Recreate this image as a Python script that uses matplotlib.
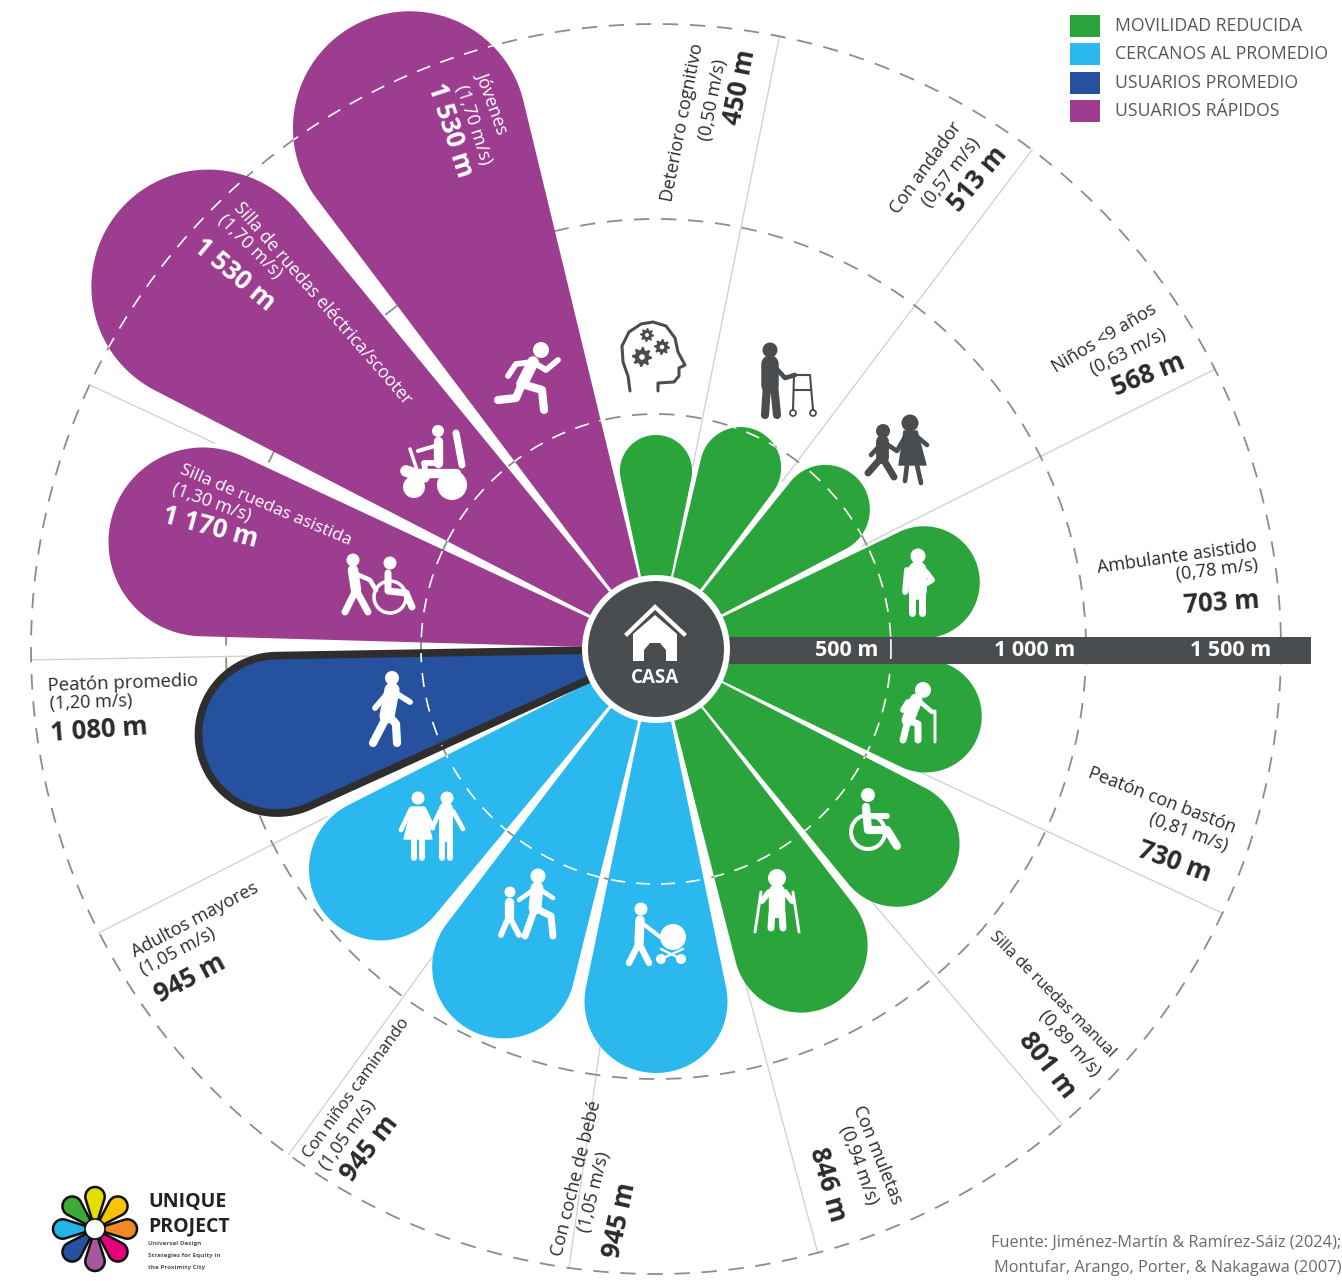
import numpy as np
import matplotlib
matplotlib.use('Agg')
import matplotlib.pyplot as plt
from matplotlib.patches import Circle, Polygon, Rectangle

plt.rcParams['font.family'] = ['Open Sans', 'DejaVu Sans']

# Data, clockwise from the top
names = ['Deterioro cognitivo', 'Con andador', 'Niños <9 años', 'Ambulante asistido',
         'Peatón con bastón', 'Silla de ruedas manual', 'Con muletas', 'Con coche de bebé',
         'Con niños caminando', 'Adultos mayores', 'Peatón promedio',
         'Silla de ruedas asistida', 'Silla de ruedas eléctrica/scooter', 'Jóvenes']
speeds = [0.50, 0.57, 0.63, 0.78, 0.81, 0.89, 0.94, 1.05, 1.05, 1.05, 1.20, 1.30, 1.70, 1.70]
distances = [450, 513, 568, 703, 730, 801, 846, 945, 945, 945, 1080, 1170, 1530, 1530]
groups = ['mov', 'mov', 'mov', 'mov', 'mov', 'mov', 'mov', 'cer', 'cer', 'cer', 'pro', 'rap', 'rap', 'rap']
angles = [0, 25, 50.5, 76, 104, 129, 154, 180, 205.6, 231.4, 257.3, 283.3, 309, 334.7]
# divider angle and the two sectors it separates
dividers = [11.4, 37, 63.4, 115, 139.5, 165, 188, 216, 243, 269, 295]
divider_next = [1, 2, 3, 5, 6, 7, 8, 9, 10, 11, 12]

ring_labels = ['500 m', '1 000 m', '1 500 m']
ring_metres = [500, 1000, 1500]

legend_labels = ['MOVILIDAD REDUCIDA', 'CERCANOS AL PROMEDIO', 'USUARIOS PROMEDIO', 'USUARIOS RÁPIDOS']
legend_groups = ['mov', 'cer', 'pro', 'rap']
colors = {'mov': '#2BA53B', 'cer': '#2BB8EE', 'pro': '#26519F', 'rap': '#9C3D8F'}

DARK = '#4A4D4F'
CX, CY = 656, 649
SLOPE = np.sin(np.radians(11.7))


def ring_px(m):
    return 40 + 0.39 * m


def reach_px(m):
    # the petals are not drawn quite linear, this scale is read off the picture
    return np.interp(m, [450, 568, 703, 730, 846, 945, 1080, 1170, 1530],
                     [214, 264, 332, 334, 397, 424, 467, 560, 693])


def petal_xy(a, L, ox=CX, oy=CY, s=SLOPE):
    a = np.radians(a)
    u = np.array([np.sin(a), -np.cos(a)])
    v = np.array([np.cos(a), np.sin(a)])
    rc = L * s / (1 + s)
    alpha = np.arcsin(s)
    phi = np.linspace(-(np.pi / 2 + alpha), np.pi / 2 + alpha, 70)
    pts = [np.array([ox, oy]) + (L - rc + rc * np.cos(p)) * u + rc * np.sin(p) * v for p in phi]
    return np.array([[ox, oy]] + pts)


def icon(x0, y0, col, heads=(), lines=(), polys=(), rings=()):
    for pts, w in lines:
        pts = np.array(pts, dtype=float)
        ax.plot(x0 + pts[:, 0], y0 + pts[:, 1], color=col, lw=w * 0.84,
                solid_capstyle='round', solid_joinstyle='round', zorder=8)
    for pts in polys:
        pts = np.array(pts, dtype=float)
        ax.add_patch(Polygon(pts + [x0, y0], closed=True, fc=col, ec=col, lw=1, joinstyle='round', zorder=8))
    for dx, dy, r in heads:
        ax.add_patch(Circle((x0 + dx, y0 + dy), r, fc=col, ec='none', zorder=8))
    for dx, dy, r, w in rings:
        ax.add_patch(Circle((x0 + dx, y0 + dy), r, fc='none', ec=col, lw=w * 0.72, zorder=8))


def gear(x, y, r):
    t = np.radians(np.arange(0, 360, 11.25))
    rad = np.where(np.arange(len(t)) % 4 < 2, r, r * 0.72)
    ax.add_patch(Polygon(np.c_[x + rad * np.cos(t), y + rad * np.sin(t)], closed=True, fc=DARK, ec='none', zorder=8))
    ax.add_patch(Circle((x, y), r * 0.28, fc='white', ec='none', zorder=9))


fig = plt.figure(figsize=(13.42, 12.81), dpi=100)
ax = fig.add_axes([0, 0, 1, 1])
ax.set_xlim(0, 1342)
ax.set_ylim(1281, 0)
ax.axis('off')

# dividers between the sectors, only from the shorter petal's tip outwards
for a, nxt in zip(dividers, divider_next):
    r = np.radians(a)
    r0 = 0.87 * reach_px(min(distances[nxt - 1], distances[nxt]))
    ax.plot([CX + r0 * np.sin(r), CX + 625 * np.sin(r)], [CY - r0 * np.cos(r), CY - 625 * np.cos(r)],
            color='#cfcfcf', lw=0.9, zorder=1)

# grey rings
theta = np.linspace(0, 2 * np.pi, 721)
for m in ring_metres:
    ax.plot(CX + ring_px(m) * np.cos(theta), CY + ring_px(m) * np.sin(theta), color='#8c8c8c',
            lw=1.3, dashes=(8.5, 6.5), zorder=1.5)

# petals, white dashes only for the 500 and 1500 rings
for a, d, g in zip(angles, distances, groups):
    if g == 'pro':
        p = Polygon(petal_xy(a, reach_px(d)), closed=True, fc=colors[g], ec='#2E2E2E', lw=5.5,
                    joinstyle='round', zorder=3)
    else:
        p = Polygon(petal_xy(a, reach_px(d)), closed=True, fc=colors[g], ec='none', zorder=3)
    ax.add_patch(p)
    for m in [500, 1500]:
        ln, = ax.plot(CX + ring_px(m) * np.cos(theta), CY + ring_px(m) * np.sin(theta), color='white',
                      lw=1.2, dashes=(8.5, 6.5), zorder=4)
        ln.set_clip_path(p)

# distance bar and hub
bar = Rectangle((CX, 637), 1311 - CX, 27, fc=DARK, ec='none', zorder=5)
ax.add_patch(bar)
ln, = ax.plot(CX + ring_px(500) * np.cos(theta), CY + ring_px(500) * np.sin(theta), color='white',
              lw=1.2, dashes=(6, 5), zorder=5.5)
ln.set_clip_path(bar)
for lab, x in zip(ring_labels, [878, 1075, 1271]):
    ax.text(x, 650, lab, color='white', fontsize=15.5, fontweight='bold', ha='right', va='center', zorder=6)

ax.add_patch(Circle((CX, CY), 74, fc='white', ec='none', zorder=6))
ax.add_patch(Circle((CX, CY), 68, fc=DARK, ec='none', zorder=7))
ax.add_patch(Polygon([(633, 634), (655, 615), (677, 634), (677, 661), (666, 661), (666, 650), (660, 643),
                      (650, 643), (644, 650), (644, 661), (633, 661)], closed=True, fc='white', ec='none', zorder=8))
ax.plot([627, 655, 684], [634, 607, 634], color='white', lw=3, zorder=8, solid_joinstyle='miter')
ax.text(655, 678, 'CASA', color='white', fontsize=13.5, fontweight='bold', ha='center', va='center', zorder=8)

# labels: centre x, centre y, rotation for name, speed, distance line
label_pos = [
    [(683, 122, 79), (713, 100, 79), (740, 87, 79)],
    [(926, 168, 54), (951, 172, 52), (978, 179, 50)],
    [(1104, 338, 31), (1128, 352, 27), (1148, 375, 22)],
    [(1177, 557, 8), (1217, 570, 7), (1222, 603, 4)],
    [(1162, 800, -21), (1188, 833, -20), (1174, 862, -20)],
    [(1052, 995, -45), (1070, 1043, -48), (1047, 1065, -52)],
    [(877, 1155, -68), (859, 1165, -70), (828, 1185, -74)],
    [(576, 1178, 76), (594, 1192, 76), (620, 1220, 78)],
    [(356, 1088, 54), (348, 1135, 54), (370, 1148, 52)],
    [(195, 920, 28), (178, 952, 28), (190, 978, 28)],
    [(123, 683, 2), (91, 703, 2), (99, 730, 4)],
    [(266, 505, -23), (212, 503, -20), (210, 527, -15)],
    [(323, 303, -49), (250, 247, -45), (234, 275, -40)],
    [(492, 102, -70), (473, 125, -72), (450, 130, -72)],
]
name_sizes = [13, 13, 13, 13, 13, 11.6, 13, 13, 12.1, 13, 13.3, 12.5, 12.7, 13]
for i in range(len(names)):
    col = 'white' if groups[i] == 'rap' else '#2b2b2b'
    speed = '(' + f'{speeds[i]:.2f}'.replace('.', ',') + ' m/s)'
    dist = f'{distances[i]:,}'.replace(',', ' ') + ' m'
    for txt, (x, y, rot), fs, w in zip([names[i], speed, dist], label_pos[i], [name_sizes[i], 13, 18.5],
                                       ['normal', 'normal', 'bold']):
        ax.text(x, y, txt, color=col, fontsize=fs, fontweight=w, rotation=rot, rotation_mode='anchor',
                ha='center', va='center', zorder=9)

# icons
W = 'white'
icon(530, 378, W, heads=[(11, -28, 8)],
     lines=[([(3, -16), (-8, 6)], 10), ([(3, -16), (16, -8), (28, -18)], 5), ([(3, -16), (-14, -14), (-22, -2)], 5),
            ([(-8, 6), (12, 12), (14, 32)], 7), ([(-8, 6), (-14, 20), (-32, 22)], 7)])
icon(432, 465, W, heads=[(-18, 22, 11), (20, 20, 15), (6, -34, 6)],
     lines=[([(24, -32), (30, 0)], 6), ([(-16, 8), (24, 8)], 8), ([(6, -24), (6, -2)], 8), ([(6, -20), (-14, -14)], 3.5),
            ([(-22, -16), (-12, 14)], 3), ([(6, -2), (-8, -2), (-6, 10)], 5), ([(-26, 6), (-8, 12)], 10)])
icon(378, 585, W, heads=[(-25, -25, 6.5), (12, -22, 6.5)],
     lines=[([(-25, -15), (-22, 5)], 9), ([(-22, 5), (-33, 27)], 6), ([(-22, 5), (-10, 27)], 6), ([(-24, -12), (-8, -5), (-2, 5)], 4),
            ([(10, -12), (10, 6), (28, 8), (34, 22)], 6)],
     rings=[(12, 12, 16, 3.5)])
icon(390, 708, W, heads=[(2, -30, 7)],
     lines=[([(2, -18), (-3, 8)], 13), ([(4, -16), (20, -6)], 5), ([(-3, -14), (-15, 0)], 5), ([(-3, 8), (-17, 35)], 7),
            ([(-1, 8), (6, 16), (7, 35)], 7)])
icon(432, 825, W, heads=[(-14, -27, 6.5), (15, -27, 6.5)],
     polys=[[(-20, -18), (-8, -18), (0, 14), (-28, 14)]],
     lines=[([(-21, -16), (-31, 5)], 4), ([(-8, -16), (1, 3)], 4), ([(-18, 14), (-18, 33)], 5), ([(-10, 14), (-10, 33)], 5),
            ([(14, -16), (14, 10)], 12), ([(10, 10), (10, 33)], 5), ([(18, 10), (18, 33)], 5), ([(8, -14), (0, 3)], 4), ([(21, -14), (31, 4)], 4)])
icon(527, 908, W, heads=[(11, -32, 7.5), (-17, -16, 5.5)],
     lines=[([(10, -20), (8, 0)], 11), ([(8, 0), (-2, 28)], 6), ([(8, 0), (24, 8), (26, 28)], 6), ([(6, -18), (-8, -8)], 4), ([(14, -18), (26, -10)], 4),
            ([(-18, -6), (-18, 8)], 8), ([(-18, 8), (-26, 27)], 5), ([(-18, 8), (-8, 27)], 5)])
icon(655, 935, W, heads=[(-14, -26, 6.5), (18, 2, 13), (6, 24, 5), (26, 24, 5)],
     lines=[([(-15, -15), (-16, 8)], 8), ([(-16, 8), (-26, 28)], 5.5), ([(-16, 8), (-6, 28)], 5.5), ([(-13, -12), (0, -2), (5, 2)], 3.5),
            ([(6, 14), (26, 24)], 2), ([(28, 14), (6, 24)], 2)])
icon(777, 900, W, heads=[(0, -22, 9)],
     lines=[([(0, -8), (0, 10)], 14), ([(-5, 12), (-6, 28)], 6), ([(5, 12), (6, 28)], 6), ([(-16, -8), (-22, 32)], 2.5), ([(16, -8), (22, 32)], 2.5),
            ([(-8, -8), (-15, 1)], 5), ([(8, -8), (15, 1)], 5)])
icon(873, 822, W, heads=[(-5, -27, 7)],
     lines=[([(-7, -15), (-5, 8), (14, 8), (24, 24)], 7), ([(-6, -6), (14, -6)], 5)],
     rings=[(-5, 10, 17, 4)])
icon(918, 712, W, heads=[(5, -22, 8)],
     lines=[([(-2, -12), (-10, 8)], 11), ([(-10, 8), (-15, 28)], 6), ([(-10, 8), (0, 12), (0, 28)], 6), ([(0, -12), (14, 0)], 4),
            ([(14, 0), (17, -1), (17, 30)], 2.5), ([(-10, -10), (-15, -2)], 5)])
icon(918, 580, W, heads=[(0, -24, 7.5)],
     lines=[([(-1, -10), (-1, 10)], 16), ([(-6, 10), (-6, 33)], 6), ([(4, 10), (4, 33)], 6), ([(-11, -10), (-13, 12)], 5), ([(8, -8), (14, 0), (4, 6)], 5)])
icon(897, 455, DARK, heads=[(-14, -24, 7), (13, -32, 8.5)],
     polys=[[(7, -24), (20, -24), (29, 10), (2, 10)]],
     lines=[([(-15, -14), (-15, 2)], 11), ([(-15, 2), (-29, 18)], 6), ([(-15, 2), (-3, 22)], 6), ([(10, 10), (8, 26)], 4), ([(20, 10), (24, 28)], 4),
            ([(-15, -12), (-26, 0)], 4), ([(-12, -12), (0, -4), (8, -18)], 4), ([(18, -20), (30, -10)], 4)])
icon(785, 380, DARK, heads=[(-15, -30, 7.5)],
     lines=[([(-15, -16), (-15, 5)], 15), ([(-18, 5), (-20, 35)], 7), ([(-11, 5), (-8, 35)], 7), ([(-11, -14), (0, -2), (10, -5)], 4),
            ([(8, 30), (9, -5), (25, -5), (28, 30)], 1.8), ([(9, 10), (26, 10)], 1.8)],
     rings=[(8, 33, 3, 1.8), (28, 33, 3, 1.8)])
head_path = [(-25, 33), (-27, 18), (-32, 4), (-33, -12), (-26, -26), (-14, -34), (-2, -36), (11, -32), (20, -20), (23, -6),
             (30, 7), (24, 10), (24, 18), (19, 24), (3, 25), (3, 33)]
icon(655, 358, DARK, lines=[(head_path, 2.6)])
gear(642, 357, 10)
gear(662, 347, 8)
gear(647, 335, 7)

# legend
for i, (lab, g) in enumerate(zip(legend_labels, legend_groups)):
    y = 26 + i * 28.4
    ax.add_patch(Rectangle((1070, y - 11), 30, 22, fc=colors[g], ec='none'))
    ax.text(1115, y, lab, color='#555759', fontsize=12.7, ha='left', va='center')

# source
ax.text(1341, 1243, 'Fuente: Jiménez-Martín & Ramírez-Sáiz (2024);', color='#6a6a6a', fontsize=11.8, ha='right', va='center')
ax.text(1341, 1268, 'Montufar, Arango, Porter, & Nakagawa (2007)', color='#6a6a6a', fontsize=11.8, ha='right', va='center')

# logo
logo_cols = ['#E2DC00', '#F9C300', '#F08A24', '#E5007E', '#A5589F', '#2750A0', '#25B4EA', '#3DAA35']
for k, c in enumerate(logo_cols):
    ax.add_patch(Polygon(petal_xy(k * 45, 42, 95, 1229, s=0.3), closed=True, fc=c, ec='#111111', lw=1.8, zorder=3))
ax.add_patch(Circle((95, 1229), 10, fc='white', ec='#111111', lw=1.2, zorder=4))
ax.text(148, 1202, 'UNIQUE', color='#222222', fontsize=14, fontweight='bold', va='center')
ax.text(148, 1226, 'PROJECT', color='#222222', fontsize=14, fontweight='bold', va='center')
ax.text(148, 1243, 'Universal Design', color='#555555', fontsize=4.6, fontweight='bold', va='center')
ax.text(148, 1255, 'Strategies for Equity in', color='#555555', fontsize=4.6, fontweight='bold', va='center')
ax.text(148, 1267, 'the Proximity City', color='#555555', fontsize=4.6, fontweight='bold', va='center')

fig.savefig('out.png', dpi=100)
